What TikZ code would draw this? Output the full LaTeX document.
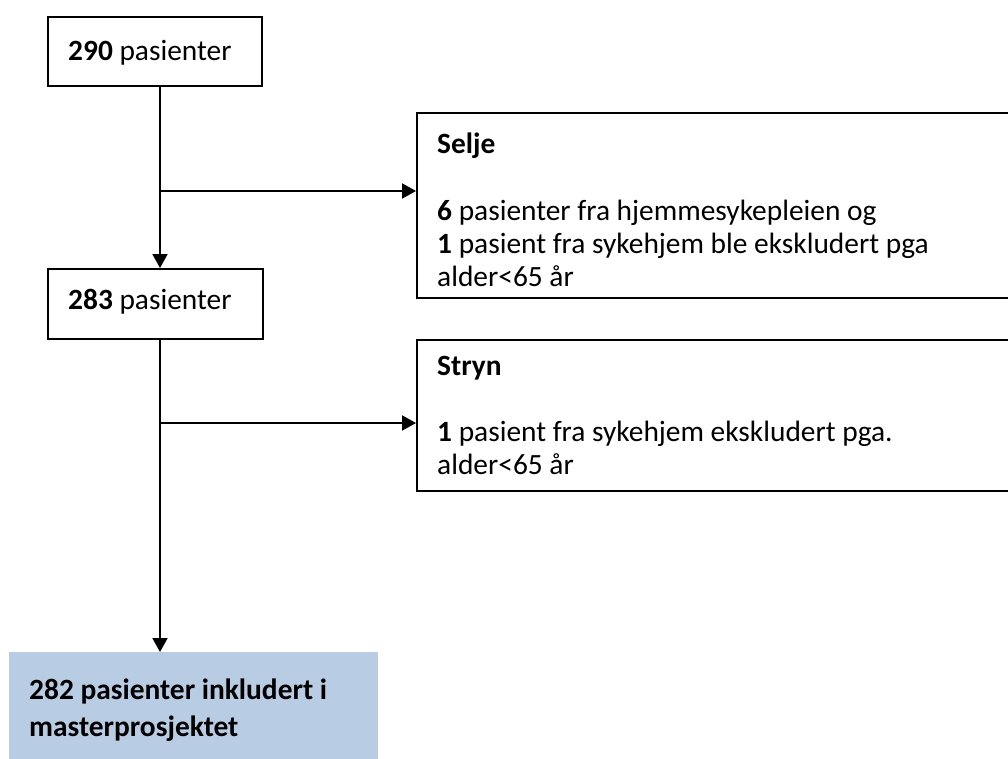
\documentclass[tikz,border=0pt]{standalone}
\usepackage{fontspec}
\setmainfont{Carlito}
\usetikzlibrary{arrows.meta}
\definecolor{incl}{HTML}{B8CCE4}
\begin{document}
\begin{tikzpicture}[x=1pt,y=-1pt,
  box/.style={draw=black, line width=1.8pt, rectangle, inner sep=0pt, anchor=north west},
  txt/.style={anchor=base west, inner sep=0pt, align=left, font=\fontsize{29.4}{33}\selectfont},
  conn/.style={line width=2pt, -{Triangle[length=14pt,width=15pt]}},
  ]
\useasboundingbox (0,0) rectangle (1008,759);
\clip (0,0) rectangle (1008,759);

% boxes
\node[box, minimum width=214pt, minimum height=69pt] (b1) at (47,16) {};
\node[box, minimum width=215pt, minimum height=70pt] (b2) at (47,268) {};
\node[box, minimum width=600pt, minimum height=185pt] (selje) at (416,112) {};
\node[box, minimum width=600pt, minimum height=151pt] (stryn) at (416,339) {};
\node[anchor=north west, fill=incl, inner sep=0pt, minimum width=369pt, minimum height=120pt] (incl) at (9,652) {};

% texts (base = baseline of last line)
\node[txt] (t1) at (68,61) {\textbf{290} pasienter};
\node[txt] (t2) at (68,309) {\textbf{283} pasienter};
\node[txt] (tselje) at (437,286) {\textbf{Selje}\\[33pt]\textbf{6} pasienter fra hjemmesykepleien og\\\textbf{1} pasient fra sykehjem ble ekskludert pga\\alder<65 år};
\node[txt] (tstryn) at (437,474) {\textbf{Stryn}\\[33pt]\textbf{1} pasient fra sykehjem ekskludert pga.\\alder<65 år};
\node[txt, font=\fontsize{29.4}{37}\selectfont\bfseries] (tincl) at (29,736) {282 pasienter inkludert i\\masterprosjektet};

% connectors
\coordinate (v1) at (160,85);
\coordinate (v2) at (160,338);
\coordinate (j1) at (160,191);
\coordinate (j2) at (160,423);
\draw[conn] (v1) -- (v1 |- b2.north);
\draw[conn] (j1) -- (j1 -| selje.west);
\draw[conn] (v2) -- (v2 |- incl.north);
\draw[conn] (j2) -- (j2 -| stryn.west);
\end{tikzpicture}
\end{document}
